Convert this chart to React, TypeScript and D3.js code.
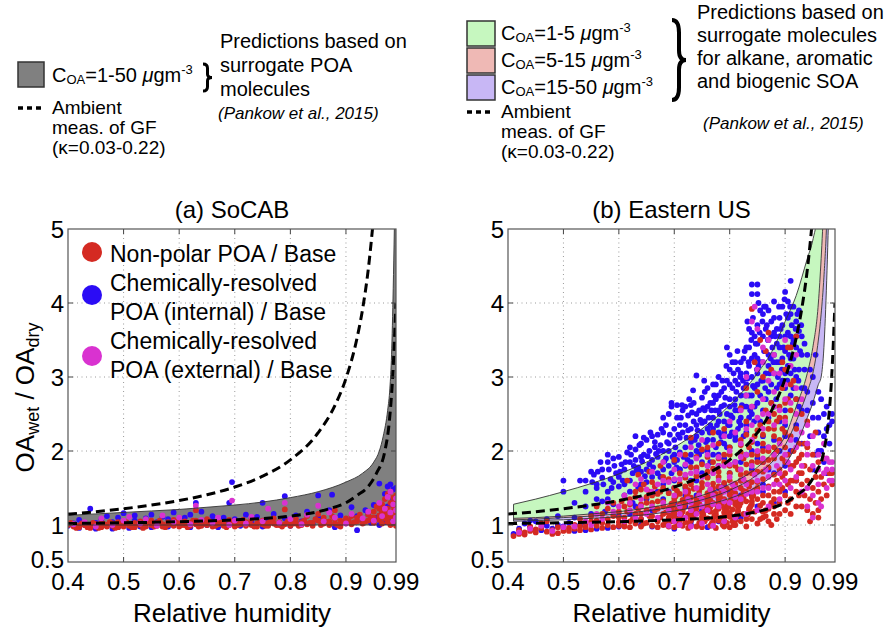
import React from 'react';
import * as d3 from 'd3';

const FONT = '"Liberation Sans", Arial, Helvetica, sans-serif';

const X_TICKS = [0.4, 0.5, 0.6, 0.7, 0.8, 0.9, 0.99];
const X_TICK_LABELS = ['0.4', '0.5', '0.6', '0.7', '0.8', '0.9', '0.99'];
const X_GRID = [0.5, 0.6, 0.7, 0.8, 0.9];
const Y_TICKS = [0.5, 1, 2, 3, 4, 5];
const Y_TICK_LABELS = ['0.5', '1', '2', '3', '4', '5'];
const Y_GRID = [1, 2, 3, 4];

// Ambient GF dashed curves (kappa = 0.22 and 0.03)
const KHI_RH = [0.4, 0.45, 0.5, 0.55, 0.6, 0.65, 0.7, 0.75, 0.8, 0.85, 0.88, 0.9, 0.92, 0.93, 0.94, 0.95];
const KHI_VAL = [1.147, 1.18, 1.22, 1.269, 1.33, 1.409, 1.513, 1.66, 1.88, 2.247, 2.613, 2.98, 3.53, 3.92, 4.447, 5.18];
const KLO_RH = [0.4, 0.5, 0.6, 0.7, 0.8, 0.85, 0.87, 0.9, 0.92, 0.94, 0.955, 0.97, 0.978, 0.984, 0.99];
const KLO_VAL = [1.02, 1.03, 1.045, 1.07, 1.12, 1.18, 1.22, 1.3, 1.4, 1.52, 1.7, 2.0, 2.4, 3.0, 4.0];

// Panel (a) grey band C_OA = 1-50
const GREY_RH = [0.4, 0.45, 0.5, 0.55, 0.6, 0.65, 0.7, 0.75, 0.8, 0.85, 0.9, 0.93, 0.95, 0.96, 0.967, 0.975, 0.979, 0.982, 0.985, 0.987, 0.99];
const GREY_UPPER = [1.13, 1.15, 1.17, 1.19, 1.21, 1.24, 1.27, 1.31, 1.37, 1.45, 1.58, 1.7, 1.85, 2.0, 2.2, 2.55, 2.85, 3.3, 4.2, 5.0, 6.5];
const GREY_LOWER = [1.0, 1.0, 1.0, 1.0, 1.0, 1.0, 1.0, 1.0, 1.0, 1.0, 1.0, 1.0, 1.0, 1.0, 1.0, 1.0, 1.0, 1.0, 1.0, 1.0, 1.0];

// Panel (b) bands
const BAND_RH = [0.41, 0.45, 0.5, 0.55, 0.6, 0.65, 0.7, 0.75, 0.8, 0.85, 0.88, 0.9, 0.92, 0.94, 0.95, 0.96, 0.965, 0.97, 0.975, 0.98];
const GREEN_TOP = [1.28, 1.35, 1.45, 1.56, 1.69, 1.85, 2.05, 2.3, 2.62, 3.05, 3.4, 3.75, 4.1, 4.6, 4.85, 5.3, 5.8, 6.3, 7.0, 8.0];
const PINK_TOP = [1.09, 1.1, 1.12, 1.15, 1.18, 1.23, 1.3, 1.4, 1.55, 1.78, 2.0, 2.2, 2.6, 3.05, 3.4, 4.0, 4.6, 5.4, 6.5, 8.0];
const PURPLE_TOP = [1.07, 1.08, 1.1, 1.12, 1.15, 1.19, 1.25, 1.34, 1.47, 1.68, 1.88, 2.08, 2.4, 2.8, 3.05, 3.5, 3.85, 4.35, 5.1, 6.5];
const PURPLE_BOTTOM = [1.05, 1.06, 1.07, 1.09, 1.11, 1.14, 1.19, 1.26, 1.36, 1.52, 1.68, 1.82, 2.08, 2.45, 2.65, 2.9, 3.0, 3.4, 4.3, 5.6];

// Scatter, panel (a): flat [RH, ratio, ...]
const A_RED = [0.40,1.00, 0.41,0.98, 0.41,1.01, 0.42,0.99, 0.42,0.97, 0.43,1.00, 0.43,1.02, 0.44,0.98, 0.44,0.96, 0.45,1.01, 0.45,0.99, 0.46,0.97, 0.46,1.03, 0.47,1.00, 0.47,0.98, 0.48,0.99, 0.48,1.02, 0.49,0.97, 0.49,1.04, 0.50,1.00, 0.50,0.98, 0.51,1.01, 0.51,0.99, 0.52,1.03, 0.52,0.97, 0.53,1.00, 0.53,1.05, 0.54,0.98, 0.54,1.02, 0.55,1.00, 0.55,1.06, 0.56,0.99, 0.56,1.03, 0.57,1.01, 0.57,0.98, 0.58,1.04, 0.58,1.00, 0.59,0.99, 0.59,1.07, 0.60,1.02, 0.60,0.98, 0.61,1.05, 0.61,1.00, 0.62,1.03, 0.62,0.99, 0.63,1.20, 0.63,1.06, 0.63,1.01, 0.64,0.99, 0.64,1.04, 0.65,1.08, 0.65,1.00, 0.66,1.02, 0.66,0.98, 0.67,1.05, 0.67,1.01, 0.68,0.99, 0.68,1.03, 0.69,1.07, 0.69,1.00, 0.70,1.02, 0.70,0.98, 0.71,1.05, 0.71,1.01, 0.72,0.99, 0.72,1.04, 0.73,1.08, 0.73,1.00, 0.74,1.02, 0.74,0.98, 0.75,1.06, 0.75,1.01, 0.76,0.99, 0.76,1.03, 0.77,1.02, 0.77,1.09, 0.78,1.00, 0.78,1.04, 0.79,1.21, 0.79,1.01, 0.80,0.99, 0.80,1.05, 0.81,1.02, 0.81,1.08, 0.82,1.00, 0.82,1.04, 0.83,1.12, 0.83,1.01, 0.84,1.03, 0.84,0.99, 0.85,1.15, 0.85,1.06, 0.86,1.02, 0.86,1.10, 0.87,1.00, 0.87,1.05, 0.88,1.20, 0.88,1.08, 0.88,1.02, 0.89,0.98, 0.89,1.06, 0.90,1.03, 0.90,1.09, 0.91,1.01, 0.91,1.12, 0.92,1.05, 0.92,1.10, 0.93,1.08, 0.93,1.02, 0.94,1.14, 0.94,1.06, 0.95,1.10, 0.95,1.03, 0.95,1.18, 0.96,1.07, 0.96,1.22, 0.96,1.13, 0.965,1.02, 0.965,1.28, 0.97,1.09, 0.97,1.16, 0.97,1.35, 0.975,1.04, 0.975,1.22, 0.975,1.42, 0.98,1.12, 0.98,1.30, 0.98,1.00, 0.98,1.45, 0.985,1.08, 0.985,1.19, 0.985,1.37, 0.985,1.26, 0.99,1.05, 0.99,1.15, 0.99,1.33, 0.99,1.40, 0.99,1.22, 0.99,0.99,
  0.405,1.03, 0.415,0.96, 0.425,1.02, 0.435,0.97, 0.445,1.03, 0.455,0.96, 0.465,1.01, 0.475,1.04, 0.485,0.96, 0.495,1.01, 0.505,1.04, 0.515,0.97, 0.525,1.01, 0.535,0.96, 0.545,1.04, 0.555,0.98, 0.565,1.06, 0.575,0.97, 0.585,1.02, 0.595,1.04, 0.605,1.00, 0.615,0.97, 0.625,1.06, 0.635,0.98, 0.645,1.02, 0.655,1.05, 0.665,0.99, 0.675,1.03, 0.685,0.97, 0.695,1.04, 0.705,1.00, 0.715,1.07, 0.725,1.02, 0.735,0.98, 0.745,1.04, 0.755,0.99, 0.765,1.06, 0.775,1.00, 0.785,0.98, 0.795,1.05, 0.805,1.02, 0.815,0.99, 0.825,1.06, 0.835,1.03, 0.845,1.08, 0.855,1.00, 0.865,1.04, 0.875,1.12, 0.885,1.00, 0.895,1.04, 0.905,1.06, 0.915,1.04, 0.925,1.14, 0.935,1.05, 0.945,1.10, 0.955,1.25, 0.965,1.18, 0.975,1.10, 0.985,1.30, 0.99,1.28];

const A_BLUE = [0.40,0.99, 0.41,1.02, 0.42,1.07, 0.42,0.96, 0.43,1.00, 0.44,1.22, 0.44,0.97, 0.45,1.03, 0.45,0.95, 0.46,1.08, 0.47,0.99, 0.47,1.12, 0.48,0.95, 0.48,1.04, 0.49,1.10, 0.49,0.97, 0.50,1.01, 0.50,1.16, 0.51,0.96, 0.52,1.06, 0.52,1.13, 0.53,0.98, 0.54,1.09, 0.55,1.14, 0.55,0.97, 0.56,1.04, 0.57,1.11, 0.58,0.98, 0.58,1.08, 0.59,1.17, 0.60,1.01, 0.61,1.10, 0.62,0.97, 0.62,1.14, 0.63,1.30, 0.63,1.04, 0.64,1.18, 0.65,1.00, 0.66,1.12, 0.66,1.06, 0.67,0.97, 0.68,1.10, 0.69,1.30, 0.69,1.03, 0.695,1.58, 0.70,1.08, 0.71,0.99, 0.72,1.14, 0.73,1.04, 0.74,1.11, 0.75,1.30, 0.75,0.98, 0.76,1.07, 0.77,1.15, 0.78,1.01, 0.79,1.39, 0.79,1.09, 0.80,0.99, 0.81,1.13, 0.82,1.05, 0.83,1.18, 0.84,1.02, 0.85,1.40, 0.85,1.10, 0.86,1.04, 0.87,1.20, 0.875,1.41, 0.88,0.97, 0.89,1.13, 0.90,1.06, 0.91,1.24, 0.92,0.93, 0.92,1.12, 0.93,1.05, 0.935,1.20, 0.94,1.15, 0.945,1.03, 0.95,1.27, 0.955,1.10, 0.96,1.56, 0.96,1.00, 0.965,1.18, 0.97,1.42, 0.97,1.04, 0.975,1.52, 0.975,1.25, 0.98,1.55, 0.98,1.10, 0.985,1.35, 0.985,1.48, 0.99,1.30, 0.99,1.50, 0.99,1.02, 0.99,1.18];

const A_MAG = [0.41,1.01, 0.43,1.04, 0.45,0.98, 0.46,1.09, 0.48,1.00, 0.50,1.06, 0.51,1.11, 0.53,1.02, 0.54,1.08, 0.56,0.99, 0.57,1.13, 0.59,1.04, 0.60,1.10, 0.62,1.01, 0.63,1.26, 0.64,1.07, 0.66,1.03, 0.67,1.10, 0.69,1.00, 0.695,1.33, 0.70,1.06, 0.72,1.02, 0.73,1.11, 0.75,1.05, 0.76,1.22, 0.78,1.03, 0.79,1.30, 0.80,1.08, 0.82,1.01, 0.83,1.14, 0.85,1.26, 0.86,1.05, 0.87,1.17, 0.88,1.10, 0.90,1.02, 0.91,1.15, 0.93,1.09, 0.94,1.18, 0.95,1.06, 0.96,1.30, 0.965,1.12, 0.97,1.22, 0.975,1.38, 0.98,1.17, 0.98,1.45, 0.985,1.28, 0.985,1.05, 0.99,1.20, 0.99,1.36, 0.99,1.10];

// Scatter, panel (b)
const B_BLUE = [0.41,0.88, 0.42,0.95, 0.43,1.02, 0.44,0.97, 0.45,1.05, 0.46,0.93, 0.47,1.08, 0.48,0.95, 0.49,1.00, 0.50,1.60, 0.50,1.45, 0.50,0.98, 0.49,1.12, 0.47,0.99, 0.44,1.06,
  0.51,1.03, 0.52,1.10, 0.53,1.60, 0.53,1.00, 0.54,1.25, 0.55,1.72, 0.55,1.15, 0.555,1.68, 0.56,1.55, 0.56,1.05, 0.57,1.64, 0.57,1.32, 0.575,1.18, 0.58,1.85, 0.58,1.95, 0.58,1.45, 0.585,1.62, 0.59,1.90, 0.59,1.28, 0.595,1.70, 0.60,1.52, 0.60,1.92, 0.60,1.12, 0.52,1.30, 0.54,1.45, 0.56,1.35,
  0.61,1.75, 0.61,1.40, 0.615,1.98, 0.62,1.60, 0.62,2.05, 0.625,1.30, 0.63,1.88, 0.63,2.20, 0.635,1.50, 0.64,2.10, 0.64,1.72, 0.645,1.95, 0.65,2.15, 0.65,1.58, 0.655,1.82, 0.66,2.20, 0.66,1.42, 0.665,2.05, 0.67,1.92, 0.67,2.22, 0.675,1.65, 0.68,2.45, 0.68,2.00, 0.68,1.55, 0.63,1.25, 0.65,1.35, 0.67,1.45, 0.62,1.15, 0.64,1.08, 0.66,1.20,
  0.69,2.10, 0.69,1.80, 0.695,2.65, 0.695,2.60, 0.70,2.30, 0.70,1.95, 0.70,1.60, 0.705,2.45, 0.71,2.18, 0.71,1.75, 0.715,2.55, 0.72,2.35, 0.72,2.05, 0.72,1.50, 0.725,2.28, 0.73,2.62, 0.73,2.12, 0.73,1.85, 0.735,2.40, 0.74,3.02, 0.74,2.50, 0.74,2.20, 0.745,1.95, 0.75,2.72, 0.75,2.38, 0.75,1.70, 0.70,1.30, 0.72,1.25, 0.74,1.40, 0.71,1.10, 0.73,1.05, 0.69,1.45, 0.75,1.20,
  0.755,2.55, 0.76,2.85, 0.76,2.30, 0.76,2.00, 0.765,2.65, 0.77,2.45, 0.77,2.90, 0.77,2.15, 0.775,2.70, 0.78,2.55, 0.78,2.25, 0.78,3.00, 0.785,2.80, 0.79,2.40, 0.79,2.62, 0.79,1.90, 0.795,2.95, 0.80,2.70, 0.80,2.35, 0.80,3.10, 0.80,2.05, 0.805,2.85, 0.81,2.55, 0.81,2.95, 0.81,3.20, 0.815,2.30, 0.82,2.75, 0.82,3.05, 0.82,2.45, 0.76,1.65, 0.78,1.80, 0.80,1.70, 0.77,1.45, 0.79,1.55, 0.81,1.85, 0.795,3.40, 0.80,3.30, 0.815,3.10,
  0.825,2.60, 0.825,3.25, 0.83,2.90, 0.83,3.40, 0.83,2.35, 0.835,3.15, 0.835,2.75, 0.84,4.25, 0.84,4.12, 0.84,3.60, 0.84,3.00, 0.84,2.50, 0.845,3.30, 0.845,2.85, 0.85,4.25, 0.85,4.12, 0.85,3.70, 0.85,3.45, 0.85,3.05, 0.85,2.65, 0.855,3.20, 0.855,2.40, 0.86,3.55, 0.86,3.85, 0.86,2.95, 0.86,2.20, 0.865,3.35, 0.865,3.65, 0.865,2.70, 0.87,3.90, 0.87,3.15, 0.87,3.50, 0.87,2.45, 0.875,3.75, 0.875,2.90, 0.88,4.02, 0.88,3.30, 0.88,3.60, 0.88,2.60, 0.83,1.95, 0.85,2.10, 0.87,2.05, 0.84,1.75, 0.86,1.85, 0.835,3.65,
  0.885,3.45, 0.885,2.85, 0.89,3.80, 0.89,3.20, 0.89,3.55, 0.895,2.95, 0.895,3.70, 0.90,4.15, 0.90,3.35, 0.90,3.05, 0.90,2.55, 0.905,4.02, 0.905,3.60, 0.91,4.30, 0.91,3.85, 0.91,3.25, 0.91,2.75, 0.915,3.50, 0.915,3.95, 0.92,3.75, 0.92,3.00, 0.92,3.40, 0.925,2.60, 0.925,3.62, 0.93,3.30, 0.93,2.85, 0.89,2.40, 0.90,2.20, 0.92,2.35, 0.93,2.10, 0.91,2.00,
  0.935,3.10, 0.94,2.55, 0.94,3.30, 0.945,2.20, 0.95,3.00, 0.95,2.45, 0.955,1.95, 0.96,2.80, 0.96,2.25, 0.965,2.00, 0.97,2.50, 0.97,1.85, 0.975,2.30, 0.98,2.10, 0.985,2.40, 0.985,2.50, 0.975,1.70, 0.95,1.75,
  0.68,1.35, 0.70,1.15, 0.72,1.40, 0.74,1.60, 0.76,1.30, 0.78,1.50, 0.80,1.45, 0.82,1.60, 0.84,1.40, 0.86,1.55, 0.88,1.70, 0.90,1.80, 0.71,1.75, 0.73,1.60, 0.75,1.85, 0.77,1.95, 0.79,2.10, 0.81,2.20, 0.83,2.25, 0.85,1.90, 0.87,1.75, 0.89,2.00, 0.73,1.00, 0.76,0.97, 0.78,1.05, 0.82,1.10, 0.70,0.95, 0.66,0.98, 0.64,1.00, 0.60,0.98, 0.58,0.96, 0.56,0.95, 0.54,0.93, 0.52,0.92, 0.85,1.25, 0.88,1.30, 0.90,1.45, 0.92,1.60,
  0.60,1.65, 0.605,1.82, 0.61,1.55, 0.62,1.85, 0.625,1.70, 0.63,2.02, 0.635,1.78, 0.64,1.92, 0.645,2.18, 0.65,1.75, 0.655,2.00, 0.66,1.88, 0.665,2.12, 0.67,1.70, 0.675,2.08, 0.68,2.25, 0.685,1.90, 0.685,2.35, 0.69,2.00, 0.69,2.50, 0.695,1.70, 0.70,2.15, 0.705,1.88, 0.705,2.62, 0.71,2.35, 0.71,1.98, 0.715,2.25, 0.72,2.60, 0.72,1.80, 0.725,2.48, 0.73,2.30, 0.73,1.95, 0.735,2.65, 0.74,2.00, 0.74,2.35, 0.745,2.55, 0.75,2.25, 0.75,2.00, 0.755,2.40, 0.755,2.80, 0.76,2.15, 0.76,2.60, 0.765,2.35, 0.765,1.85, 0.77,2.65, 0.77,2.30, 0.775,2.05, 0.775,2.90, 0.78,2.40, 0.78,2.75, 0.785,2.20, 0.785,2.60, 0.79,2.85, 0.79,2.25, 0.795,2.50, 0.795,2.05, 0.80,2.60, 0.80,2.90, 0.805,2.45, 0.805,3.20, 0.81,2.70, 0.81,2.15, 0.815,2.90, 0.815,2.55, 0.82,2.35, 0.82,3.20, 0.825,2.85, 0.825,2.20, 0.83,3.05, 0.83,2.60, 0.835,2.45, 0.835,3.40, 0.84,2.75, 0.84,3.25, 0.845,2.60, 0.845,3.55, 0.85,2.90, 0.85,3.25, 0.855,2.75, 0.855,3.90, 0.86,3.20, 0.86,2.55, 0.865,3.05, 0.865,3.95, 0.87,2.80, 0.87,3.30, 0.875,3.55, 0.875,2.65, 0.88,3.05, 0.88,3.80, 0.885,3.20, 0.885,3.65, 0.89,2.90, 0.89,3.40, 0.895,3.25, 0.895,3.95, 0.90,2.85, 0.90,3.55, 0.905,3.15, 0.905,3.80, 0.91,3.05, 0.91,3.55, 0.915,2.85, 0.915,3.25, 0.92,3.55, 0.92,2.70, 0.925,3.10, 0.925,3.90, 0.93,3.55, 0.93,2.55, 0.935,2.85, 0.935,3.45, 0.94,2.80, 0.945,3.10, 0.95,2.65, 0.955,3.30, 0.96,2.45, 0.965,2.70, 0.97,2.20, 0.975,2.60, 0.98,2.35,
  0.62,1.45, 0.64,1.55, 0.66,1.65, 0.68,1.75, 0.70,1.85, 0.72,1.65, 0.74,1.75, 0.76,1.80, 0.78,1.95, 0.80,2.20, 0.82,1.85, 0.84,2.00, 0.86,2.05, 0.88,2.15, 0.90,2.35, 0.92,2.15, 0.94,2.10, 0.96,2.00, 0.70,1.50, 0.74,1.30, 0.78,1.35, 0.82,1.40, 0.86,1.45, 0.58,1.35, 0.56,1.50, 0.54,1.60, 0.57,1.75, 0.59,1.58,
  0.632,1.74, 0.642,1.86, 0.652,1.93, 0.662,1.78, 0.672,2.00, 0.682,1.86, 0.692,2.22, 0.637,2.08, 0.647,1.66, 0.657,2.25, 0.667,1.96, 0.677,2.30, 0.687,2.12, 0.697,1.92,
  0.702,2.05, 0.712,2.45, 0.722,2.18, 0.732,2.52, 0.742,2.28, 0.752,2.58, 0.762,2.45, 0.772,2.75, 0.782,2.50, 0.792,2.72, 0.707,2.22, 0.717,1.92, 0.727,2.70, 0.737,2.15, 0.747,2.42, 0.757,2.12, 0.767,2.55, 0.777,2.35, 0.787,2.95, 0.797,2.35, 0.704,1.78, 0.724,1.88, 0.744,2.08, 0.764,2.25, 0.784,2.12, 0.714,2.62, 0.734,2.82, 0.754,2.95, 0.774,2.55, 0.794,3.15,
  0.802,2.48, 0.812,2.80, 0.822,2.62, 0.832,2.98, 0.842,2.88, 0.852,3.15, 0.862,3.35, 0.872,3.05, 0.807,3.05, 0.817,2.40, 0.827,3.35, 0.837,2.55, 0.847,3.45, 0.857,2.95, 0.867,3.70, 0.877,3.40, 0.804,2.25, 0.814,3.35, 0.824,2.95, 0.834,3.20, 0.844,2.40, 0.854,3.60, 0.864,2.85, 0.874,3.25, 0.809,2.62, 0.819,3.00, 0.829,2.75, 0.839,3.50, 0.849,3.10, 0.859,3.75, 0.869,3.50, 0.879,3.20, 0.842,3.80, 0.852,4.00, 0.862,3.95, 0.832,3.75,
  0.882,3.55, 0.887,3.00, 0.892,3.65, 0.897,3.40, 0.902,3.85, 0.907,3.30, 0.912,3.70, 0.917,3.10, 0.922,3.85, 0.927,3.35, 0.884,2.70, 0.894,3.10, 0.904,2.95, 0.914,3.45, 0.924,2.95, 0.889,3.95, 0.899,4.05, 0.909,3.95, 0.919,3.65, 0.929,3.70,
  0.552,1.58, 0.562,1.72, 0.572,1.55, 0.582,1.75, 0.592,1.80, 0.602,1.72, 0.612,1.85, 0.622,1.95, 0.567,1.85, 0.587,1.50, 0.607,1.60, 0.627,1.80];

const B_RED = [0.41,0.85, 0.42,0.88, 0.43,0.87, 0.43,0.90, 0.44,0.92, 0.45,0.90, 0.45,0.94, 0.46,0.96, 0.47,0.91, 0.48,0.88, 0.48,0.93, 0.49,0.89, 0.49,0.97, 0.50,0.92, 0.50,0.95, 0.46,1.02, 0.44,0.98, 0.47,1.05, 0.42,0.93,
  0.51,0.96, 0.51,0.92, 0.52,0.95, 0.52,1.00, 0.53,0.93, 0.53,1.08, 0.54,0.97, 0.54,1.02, 0.55,0.94, 0.55,1.12, 0.56,0.99, 0.56,1.06, 0.57,0.96, 0.57,1.15, 0.57,1.03, 0.58,1.00, 0.58,1.22, 0.58,1.08, 0.59,0.97, 0.59,1.12, 0.59,1.30, 0.60,1.04, 0.60,0.99, 0.60,1.18, 0.55,1.05, 0.53,0.98, 0.56,1.25,
  0.61,1.00, 0.61,1.10, 0.61,1.25, 0.62,0.97, 0.62,1.05, 0.62,1.35, 0.63,1.02, 0.63,1.15, 0.63,1.45, 0.64,0.98, 0.64,1.08, 0.64,1.28, 0.645,1.55, 0.65,1.03, 0.65,1.20, 0.65,1.38, 0.66,0.99, 0.66,1.12, 0.66,1.30, 0.66,1.58, 0.67,1.05, 0.67,1.22, 0.67,1.42, 0.67,0.97, 0.68,1.00, 0.68,1.15, 0.68,1.32, 0.68,1.65, 0.615,1.60, 0.635,1.68, 0.655,1.72, 0.675,1.80,
  0.69,0.98, 0.70,0.97, 0.715,0.99, 0.725,0.96, 0.74,0.98, 0.75,0.97, 0.765,0.99, 0.775,0.96, 0.79,0.98, 0.80,0.97,
  0.685,1.04, 0.695,1.05, 0.705,1.03, 0.72,1.04, 0.73,1.06, 0.745,1.03, 0.755,1.05, 0.77,1.04, 0.78,1.06, 0.795,1.03, 0.805,1.05,
  0.69,1.10, 0.70,1.11, 0.71,1.09, 0.725,1.12, 0.735,1.10, 0.75,1.11, 0.76,1.09, 0.775,1.12, 0.785,1.10, 0.80,1.11, 0.81,1.09,
  0.685,1.17, 0.70,1.16, 0.715,1.18, 0.725,1.15, 0.74,1.17, 0.75,1.16, 0.765,1.18, 0.775,1.15, 0.79,1.17, 0.80,1.16, 0.815,1.18,
  0.69,1.23, 0.705,1.21, 0.715,1.24, 0.73,1.22, 0.74,1.23, 0.755,1.21, 0.765,1.24, 0.78,1.22, 0.79,1.23, 0.805,1.21, 0.815,1.24,
  0.695,1.29, 0.71,1.28, 0.72,1.30, 0.735,1.27, 0.745,1.29, 0.76,1.28, 0.77,1.30, 0.785,1.27, 0.795,1.29, 0.81,1.28, 0.82,1.30,
  0.70,1.36, 0.715,1.34, 0.73,1.37, 0.74,1.35, 0.755,1.36, 0.765,1.34, 0.78,1.37, 0.79,1.35, 0.805,1.36, 0.815,1.34, 0.825,1.37,
  0.69,1.43, 0.71,1.42, 0.725,1.44, 0.745,1.41, 0.76,1.43, 0.775,1.42, 0.785,1.44, 0.80,1.41, 0.81,1.43, 0.825,1.42,
  0.70,1.50, 0.72,1.52, 0.735,1.49, 0.75,1.51, 0.77,1.50, 0.78,1.52, 0.795,1.49, 0.81,1.51, 0.82,1.50, 0.835,1.52,
  0.69,1.62, 0.71,1.70, 0.73,1.58, 0.74,1.78, 0.76,1.64, 0.77,1.85, 0.78,1.72, 0.79,1.95, 0.80,1.60, 0.70,1.88, 0.72,1.95, 0.75,2.02, 0.76,1.92, 0.78,2.10, 0.80,1.80, 0.80,2.05, 0.73,2.18, 0.77,2.25, 0.79,2.30,
  0.81,1.00, 0.82,1.05, 0.83,0.98, 0.84,1.08, 0.85,1.02, 0.86,1.10, 0.87,1.05,
  0.825,1.15, 0.835,1.22, 0.845,1.18, 0.855,1.26, 0.865,1.20, 0.875,1.30, 0.88,1.15,
  0.82,1.60, 0.83,1.45, 0.83,1.70, 0.84,1.38, 0.84,1.58, 0.84,1.85, 0.85,1.50, 0.85,1.72, 0.85,1.95, 0.86,1.40, 0.86,1.62, 0.86,1.85, 0.86,2.10, 0.87,1.52, 0.87,1.78, 0.87,2.00, 0.87,2.30, 0.88,1.45, 0.88,1.68, 0.88,1.90, 0.88,2.20, 0.88,2.50,
  0.815,1.75, 0.825,1.90, 0.835,2.05, 0.845,2.20, 0.855,2.35, 0.865,2.55, 0.875,2.65, 0.82,2.15, 0.83,2.40, 0.84,2.60, 0.85,2.80, 0.86,3.00, 0.845,3.20, 0.855,3.50, 0.84,3.92, 0.865,3.35, 0.87,3.60, 0.875,3.10, 0.82,2.58, 0.83,2.85,
  0.81,1.30, 0.82,1.38, 0.83,1.32, 0.84,1.28, 0.85,1.35, 0.86,1.30, 0.87,1.40, 0.88,1.35,
  0.885,1.60, 0.885,2.00, 0.885,2.40, 0.89,1.30, 0.89,1.75, 0.89,2.15, 0.89,2.60, 0.895,1.50, 0.895,1.90, 0.895,2.30, 0.895,2.85, 0.90,1.40, 0.90,1.70, 0.90,2.05, 0.90,2.45, 0.90,3.10, 0.905,1.55, 0.905,1.95, 0.905,2.70, 0.91,1.35, 0.91,1.80, 0.91,2.20, 0.91,2.55, 0.91,3.40, 0.915,1.60, 0.915,2.00, 0.915,2.95, 0.92,1.45, 0.92,1.85, 0.92,2.30, 0.92,3.55, 0.925,1.70, 0.925,2.10, 0.93,1.25, 0.93,1.55, 0.93,1.95, 0.93,2.50, 0.90,1.20, 0.91,1.15, 0.92,1.25,
  0.935,1.40, 0.935,1.80, 0.94,1.20, 0.94,1.60, 0.94,2.05, 0.945,1.35, 0.945,1.75, 0.95,1.15, 0.95,1.50, 0.95,1.95, 0.955,1.30, 0.955,1.65, 0.96,1.20, 0.96,1.45, 0.96,1.85, 0.965,1.35, 0.965,1.65, 0.97,1.55, 0.97,1.90, 0.975,1.40, 0.98,1.70, 0.985,1.55, 0.985,1.70, 0.955,2.25, 0.94,2.40, 0.945,1.05, 0.96,1.10,
  0.60,1.10, 0.605,1.32, 0.61,0.98, 0.615,1.18, 0.62,1.28, 0.625,1.08, 0.63,1.38, 0.635,1.22, 0.64,1.48, 0.64,1.15, 0.645,1.02, 0.65,1.30, 0.655,1.45, 0.655,1.12, 0.66,1.40, 0.665,1.20, 0.665,1.52, 0.67,1.32, 0.675,1.10, 0.675,1.45, 0.68,1.25, 0.68,1.50,
  0.6875,1.00, 0.7075,1.00, 0.7275,1.01, 0.7475,1.00, 0.7675,1.02, 0.7875,1.00, 0.8075,1.00,
  0.69,1.07, 0.71,1.06, 0.73,1.08, 0.75,1.07, 0.77,1.08, 0.79,1.07, 0.81,1.06, 0.83,1.08,
  0.6925,1.13, 0.7125,1.14, 0.7325,1.13, 0.7525,1.14, 0.7725,1.13, 0.7925,1.14, 0.8125,1.13, 0.8325,1.14,
  0.695,1.20, 0.715,1.20, 0.735,1.19, 0.755,1.20, 0.775,1.19, 0.795,1.20, 0.815,1.20, 0.835,1.19,
  0.6975,1.26, 0.7175,1.25, 0.7375,1.26, 0.7575,1.25, 0.7775,1.26, 0.7975,1.25, 0.8175,1.26, 0.8375,1.25,
  0.70,1.32, 0.72,1.32, 0.74,1.31, 0.76,1.32, 0.78,1.31, 0.80,1.32, 0.82,1.33, 0.84,1.32,
  0.7025,1.39, 0.7225,1.39, 0.7425,1.38, 0.7625,1.39, 0.7825,1.38, 0.8025,1.39, 0.8225,1.39, 0.8425,1.40,
  0.705,1.46, 0.725,1.47, 0.745,1.46, 0.765,1.47, 0.785,1.46, 0.805,1.47, 0.825,1.46, 0.845,1.47,
  0.71,1.56, 0.73,1.55, 0.75,1.57, 0.77,1.56, 0.79,1.57, 0.81,1.56, 0.83,1.57, 0.85,1.58,
  0.72,1.64, 0.74,1.66, 0.76,1.72, 0.78,1.65, 0.80,1.70, 0.82,1.68, 0.84,1.70, 0.86,1.72,
  0.73,1.78, 0.75,1.82, 0.77,1.76, 0.79,1.85, 0.81,1.80, 0.83,1.82, 0.85,1.85, 0.87,1.88,
  0.74,1.92, 0.76,2.05, 0.78,1.90, 0.80,1.95, 0.82,1.98, 0.84,1.95, 0.86,2.00, 0.88,2.05,
  0.82,2.08, 0.84,2.12, 0.86,2.22, 0.88,2.30, 0.90,2.25, 0.85,2.28, 0.87,2.40, 0.89,2.45, 0.83,2.22,
  0.89,1.45, 0.895,1.65, 0.90,1.85, 0.905,1.30, 0.91,1.60, 0.915,1.80, 0.92,1.60, 0.925,1.40, 0.925,1.90, 0.93,1.70, 0.935,2.10, 0.90,2.65, 0.91,2.90, 0.92,2.70, 0.895,3.20, 0.905,3.40,
  0.86,1.18, 0.87,1.22, 0.88,1.25, 0.89,1.15, 0.855,1.08, 0.865,1.12, 0.875,1.00, 0.885,1.08];

const B_MAG = [0.42,0.90, 0.44,0.95, 0.46,0.99, 0.48,0.92, 0.50,0.97, 0.52,0.98, 0.54,1.05, 0.55,1.00, 0.56,1.15, 0.57,1.08, 0.58,1.30, 0.59,1.18, 0.60,1.25, 0.61,1.40, 0.61,1.05, 0.62,1.20, 0.63,1.55, 0.63,1.10, 0.64,1.35, 0.64,1.62, 0.65,1.15, 0.65,1.48, 0.66,1.25, 0.66,1.72, 0.67,1.10, 0.67,1.55, 0.68,1.30, 0.68,1.85, 0.69,1.20, 0.69,1.58, 0.70,1.05, 0.70,1.40, 0.70,1.75, 0.71,1.25, 0.71,1.62, 0.71,1.95, 0.72,1.10, 0.72,1.45, 0.72,1.82, 0.73,1.30, 0.73,1.70, 0.73,2.05, 0.74,1.15, 0.74,1.50, 0.74,1.90, 0.75,1.35, 0.75,1.65, 0.75,2.15, 0.76,1.20, 0.76,1.55, 0.76,1.80, 0.77,1.40, 0.77,1.70, 0.77,2.08, 0.78,1.25, 0.78,1.60, 0.78,1.92, 0.79,1.45, 0.79,1.80, 0.79,2.20, 0.80,1.30, 0.80,1.65, 0.80,2.00, 0.80,2.40, 0.81,1.50, 0.81,1.85, 0.81,2.25, 0.82,1.35, 0.82,1.75, 0.82,2.10, 0.82,2.55, 0.83,1.55, 0.83,1.95, 0.83,2.30, 0.83,2.75, 0.84,1.45, 0.84,1.80, 0.84,2.15, 0.84,2.60, 0.84,3.75, 0.845,3.95, 0.85,1.60, 0.85,2.00, 0.85,2.45, 0.85,3.10, 0.86,1.50, 0.86,1.90, 0.86,2.30, 0.86,2.70, 0.86,3.40, 0.87,1.65, 0.87,2.05, 0.87,2.50, 0.87,2.95, 0.88,1.55, 0.88,1.95, 0.88,2.35, 0.88,2.80, 0.88,3.30, 0.89,1.70, 0.89,2.10, 0.89,2.55, 0.89,3.05, 0.90,1.60, 0.90,1.95, 0.90,2.40, 0.90,2.90, 0.90,3.50, 0.91,1.75, 0.91,2.15, 0.91,2.65, 0.91,3.15, 0.92,1.65, 0.92,2.05, 0.92,2.50, 0.92,3.30, 0.93,1.80, 0.93,2.25, 0.93,2.70, 0.94,1.50, 0.94,1.95, 0.94,2.35, 0.95,1.40, 0.95,1.80, 0.95,2.20, 0.96,1.55, 0.96,1.95, 0.965,1.25, 0.97,1.70, 0.97,2.10, 0.975,1.50, 0.98,1.85, 0.985,1.75, 0.985,1.60, 0.975,1.90, 0.96,1.30, 0.95,1.10, 0.94,1.25, 0.73,0.98, 0.75,1.02, 0.77,0.99, 0.79,1.05, 0.81,1.10, 0.83,1.15, 0.85,1.20, 0.87,1.25, 0.89,1.35, 0.71,1.00, 0.69,0.99,
  0.62,1.30, 0.64,1.25, 0.66,1.45, 0.68,1.60, 0.70,1.62, 0.72,1.68, 0.74,1.72, 0.76,1.95, 0.78,1.80, 0.80,1.82, 0.82,1.92, 0.84,2.35, 0.86,2.50, 0.88,2.60, 0.90,2.70, 0.92,2.85, 0.94,2.10, 0.96,1.75, 0.71,1.15, 0.73,1.20, 0.75,1.25, 0.77,1.28, 0.79,1.32, 0.81,1.38, 0.83,1.42, 0.85,1.45, 0.87,1.50, 0.89,1.55, 0.91,1.50, 0.93,1.45, 0.725,1.35, 0.745,1.40, 0.765,1.48, 0.785,1.50, 0.805,1.55, 0.825,1.62, 0.845,1.68, 0.865,1.75, 0.885,1.80, 0.905,1.85, 0.86,3.20, 0.87,3.50, 0.85,3.65, 0.88,3.05, 0.83,3.00, 0.98,1.60, 0.975,1.75, 0.985,1.85];

const RED = '#d42a22';
const BLUE = '#2b0cf5';
const MAG = '#d932d0';
const DOT_R = 2.9;

type Box = { left: number; right: number; top: number; bottom: number };
const BOX_A: Box = { left: 68, right: 396, top: 229, bottom: 562 };
const BOX_B: Box = { left: 508, right: 835, top: 229, bottom: 562 };

function pairs(a: number[]): [number, number][] {
  const out: [number, number][] = [];
  for (let i = 0; i + 1 < a.length; i += 2) out.push([a[i], a[i + 1]]);
  return out;
}

function scales(b: Box) {
  const x = d3.scaleLinear().domain([0.4, 0.99]).range([b.left, b.right]);
  const y = d3.scaleLinear().domain([0.5, 5]).range([b.bottom, b.top]);
  return { x, y };
}

function curve(xs: number[], ys: number[], x: any, y: any) {
  return d3.line<[number, number]>().x(d => x(d[0])).y(d => y(d[1])).curve(d3.curveMonotoneX)(xs.map((r, i) => [r, ys[i]] as [number, number])) || '';
}

function band(xs: number[], lo: number[], hi: number[], x: any, y: any) {
  return d3.area<number>().x(i => x(xs[i])).y0(i => y(lo[i])).y1(i => y(hi[i])).curve(d3.curveMonotoneX)(xs.map((_, i) => i)) || '';
}

function bracePath(x: number, yTop: number, yBot: number, w: number) {
  const h = yBot - yTop;
  const ym = (yTop + yBot) / 2;
  return `M${x},${yTop} Q${x + w},${yTop} ${x + w},${yTop + h * 0.16} L${x + w},${ym - h * 0.12} Q${x + w},${ym} ${x + 2 * w},${ym} Q${x + w},${ym} ${x + w},${ym + h * 0.12} L${x + w},${yBot - h * 0.16} Q${x + w},${yBot} ${x},${yBot}`;
}

function Frame({ b, title, yLabels }: { b: Box; title: string; yLabels: boolean }) {
  const { x, y } = scales(b);
  const cx = (b.left + b.right) / 2;
  return (
    <g>
      <text x={cx} y={218} textAnchor="middle" fontSize={24} fill="#000">{title}</text>
      {Y_TICKS.map((t, i) => (
        <text key={'yl' + i} x={b.left - 4} y={y(t) + (t === 0.5 ? 6 : 8.5)} textAnchor="end" fontSize={24} fill="#000">{Y_TICK_LABELS[i]}</text>
      ))}
      {X_TICKS.map((t, i) => (
        <text key={'xl' + i} x={x(t)} y={590} textAnchor="middle" fontSize={24} fill="#000">{X_TICK_LABELS[i]}</text>
      ))}
      <text x={cx} y={622} textAnchor="middle" fontSize={26} fill="#000">Relative humidity</text>
      {yLabels && (
        <text transform={`translate(34,${(b.top + b.bottom) / 2 + 2}) rotate(-90)`} textAnchor="middle" fontSize={26} fill="#000">
          OA<tspan fontSize={18} dy={5}>wet</tspan><tspan dy={-5}> / OA</tspan><tspan fontSize={18} dy={5}>dry</tspan>
        </text>
      )}
    </g>
  );
}

function Grid({ b }: { b: Box }) {
  const { x, y } = scales(b);
  return (
    <g stroke="#9a9a9a" strokeWidth={1} strokeDasharray="1,3.5">
      {X_GRID.map((t, i) => <line key={'gx' + i} x1={x(t)} x2={x(t)} y1={b.top} y2={b.bottom} />)}
      {Y_GRID.map((t, i) => <line key={'gy' + i} x1={b.left} x2={b.right} y1={y(t)} y2={y(t)} />)}
    </g>
  );
}

function Ticks({ b }: { b: Box }) {
  const { x, y } = scales(b);
  const L = 5;
  return (
    <g stroke="#444" strokeWidth={1}>
      {X_GRID.map((t, i) => (
        <g key={'tx' + i}>
          <line x1={x(t)} x2={x(t)} y1={b.bottom} y2={b.bottom - L} />
          <line x1={x(t)} x2={x(t)} y1={b.top} y2={b.top + L} />
        </g>
      ))}
      {Y_GRID.map((t, i) => (
        <g key={'ty' + i}>
          <line x1={b.left} x2={b.left + L} y1={y(t)} y2={y(t)} />
          <line x1={b.right} x2={b.right - L} y1={y(t)} y2={y(t)} />
        </g>
      ))}
      <rect x={b.left} y={b.top} width={b.right - b.left} height={b.bottom - b.top} fill="none" stroke="#555" strokeWidth={1.2} />
    </g>
  );
}

function Dots({ data, color, b }: { data: number[]; color: string; b: Box }) {
  const { x, y } = scales(b);
  return (
    <g fill={color}>
      {pairs(data).map((p, i) => <circle key={i} cx={x(p[0])} cy={y(p[1])} r={DOT_R} />)}
    </g>
  );
}

function Dashed({ b }: { b: Box }) {
  const { x, y } = scales(b);
  return (
    <g fill="none" stroke="#000" strokeWidth={3} strokeDasharray="9,5">
      <path d={curve(KHI_RH, KHI_VAL, x, y)} />
      <path d={curve(KLO_RH, KLO_VAL, x, y)} />
    </g>
  );
}

function PanelA() {
  const b = BOX_A;
  const { x, y } = scales(b);
  return (
    <g>
      <Frame b={b} title="(a) SoCAB" yLabels={true} />
      <Grid b={b} />
      <g clipPath="url(#clipA)">
        <path d={band(GREY_RH, GREY_LOWER, GREY_UPPER, x, y)} fill="#808080" />
        <Dots data={A_BLUE} color={BLUE} b={b} />
        <Dots data={A_RED} color={RED} b={b} />
        <Dots data={A_MAG} color={MAG} b={b} />
        <g fill="none" stroke="#333" strokeWidth={0.9}>
          <path d={curve(GREY_RH, GREY_UPPER, x, y)} />
          <path d={curve(GREY_RH, GREY_LOWER, x, y)} />
        </g>
        <Dashed b={b} />
      </g>
      <Ticks b={b} />
      <circle cx={92} cy={252} r={10} fill={RED} />
      <circle cx={92} cy={295} r={10} fill={BLUE} />
      <circle cx={92} cy={356} r={10} fill={MAG} />
      <g fontSize={23} fill="#000">
        <text x={110} y={262}>Non-polar POA / Base</text>
        <text x={110} y={291}>Chemically-resolved</text>
        <text x={110} y={320}>POA (internal) / Base</text>
        <text x={110} y={349}>Chemically-resolved</text>
        <text x={110} y={378}>POA (external) / Base</text>
      </g>
    </g>
  );
}

function PanelB() {
  const b = BOX_B;
  const { x, y } = scales(b);
  return (
    <g>
      <Frame b={b} title="(b) Eastern US" yLabels={false} />
      <Grid b={b} />
      <g clipPath="url(#clipB)">
        <path d={band(BAND_RH, PINK_TOP, GREEN_TOP, x, y)} fill="#c6f7bf" />
        <path d={band(BAND_RH, PURPLE_TOP, PINK_TOP, x, y)} fill="#efb9b5" />
        <path d={band(BAND_RH, PURPLE_BOTTOM, PURPLE_TOP, x, y)} fill="#c8b7f5" />
        <Dots data={B_BLUE} color={BLUE} b={b} />
        <Dots data={B_RED} color={RED} b={b} />
        <Dots data={B_MAG} color={MAG} b={b} />
        <g fill="none" stroke="#333" strokeWidth={0.9}>
          <path d={curve(BAND_RH, GREEN_TOP, x, y)} />
          <path d={curve(BAND_RH, PINK_TOP, x, y)} />
          <path d={curve(BAND_RH, PURPLE_TOP, x, y)} />
          <path d={curve(BAND_RH, PURPLE_BOTTOM, x, y)} />
          <line x1={x(BAND_RH[0])} x2={x(BAND_RH[0])} y1={y(GREEN_TOP[0])} y2={y(PURPLE_BOTTOM[0])} />
        </g>
        <Dashed b={b} />
      </g>
      <Ticks b={b} />
    </g>
  );
}

function TopLegends() {
  return (
    <g fontSize={20} fill="#000">
      <rect x={18} y={62} width={26} height={25} fill="#808080" stroke="#333" strokeWidth={1.5} />
      <text x={52} y={82}>C<tspan fontSize={13} dy={2}>OA</tspan><tspan dy={-2}>=1-50 </tspan><tspan fontStyle="italic">μ</tspan>gm<tspan fontSize={13} dy={-8}>-3</tspan></text>
      <path d={bracePath(203, 64, 91, 4.5)} fill="none" stroke="#000" strokeWidth={3} />
      <text x={220} y={48}>Predictions based on</text>
      <text x={220} y={72}>surrogate POA</text>
      <text x={220} y={96}>molecules</text>
      <text x={218} y={119} fontSize={17} fontStyle="italic">(Pankow et al., 2015)</text>
      <line x1={18} x2={44} y1={108} y2={108} stroke="#000" strokeWidth={3.5} strokeDasharray="5,4" />
      <g fontSize={19}>
        <text x={52} y={114}>Ambient</text>
        <text x={52} y={134}>meas. of GF</text>
        <text x={52} y={154}>(κ=0.03-0.22)</text>
      </g>

      <rect x={467} y={21} width={28} height={25} fill="#c6f7bf" stroke="#333" strokeWidth={1.5} />
      <rect x={467} y={48} width={28} height={25} fill="#efb9b5" stroke="#333" strokeWidth={1.5} />
      <rect x={467} y={75} width={28} height={25} fill="#c8b7f5" stroke="#333" strokeWidth={1.5} />
      <text x={501} y={40}>C<tspan fontSize={13} dy={2}>OA</tspan><tspan dy={-2}>=1-5 </tspan><tspan fontStyle="italic">μ</tspan>gm<tspan fontSize={13} dy={-8}>-3</tspan></text>
      <text x={501} y={67}>C<tspan fontSize={13} dy={2}>OA</tspan><tspan dy={-2}>=5-15 </tspan><tspan fontStyle="italic">μ</tspan>gm<tspan fontSize={13} dy={-8}>-3</tspan></text>
      <text x={501} y={94}>C<tspan fontSize={13} dy={2}>OA</tspan><tspan dy={-2}>=15-50 </tspan><tspan fontStyle="italic">μ</tspan>gm<tspan fontSize={13} dy={-8}>-3</tspan></text>
      <path d={bracePath(672, 20, 100, 7)} fill="none" stroke="#000" strokeWidth={4} />
      <text x={697} y={19}>Predictions based on</text>
      <text x={697} y={42}>surrogate molecules</text>
      <text x={697} y={65}>for alkane, aromatic</text>
      <text x={697} y={88}>and biogenic SOA</text>
      <text x={703} y={129} fontSize={17} fontStyle="italic">(Pankow et al., 2015)</text>
      <line x1={467} x2={494} y1={112} y2={112} stroke="#000" strokeWidth={3.5} strokeDasharray="5,4" />
      <g fontSize={19}>
        <text x={501} y={118}>Ambient</text>
        <text x={501} y={138}>meas. of GF</text>
        <text x={501} y={158}>(κ=0.03-0.22)</text>
      </g>
    </g>
  );
}

export default function App() {
  const W = 884, H = 631;
  return (
    <svg width={W} height={H} viewBox={`0 0 ${W} ${H}`} style={{ position: 'absolute', left: 0, top: 0, display: 'block' }} fontFamily={FONT}>
      <defs>
        <clipPath id="clipA"><rect x={BOX_A.left} y={BOX_A.top} width={BOX_A.right - BOX_A.left} height={BOX_A.bottom - BOX_A.top} /></clipPath>
        <clipPath id="clipB"><rect x={BOX_B.left} y={BOX_B.top} width={BOX_B.right - BOX_B.left} height={BOX_B.bottom - BOX_B.top} /></clipPath>
      </defs>
      <rect width={W} height={H} fill="#fff" />
      <PanelA />
      <PanelB />
      <TopLegends />
    </svg>
  );
}
